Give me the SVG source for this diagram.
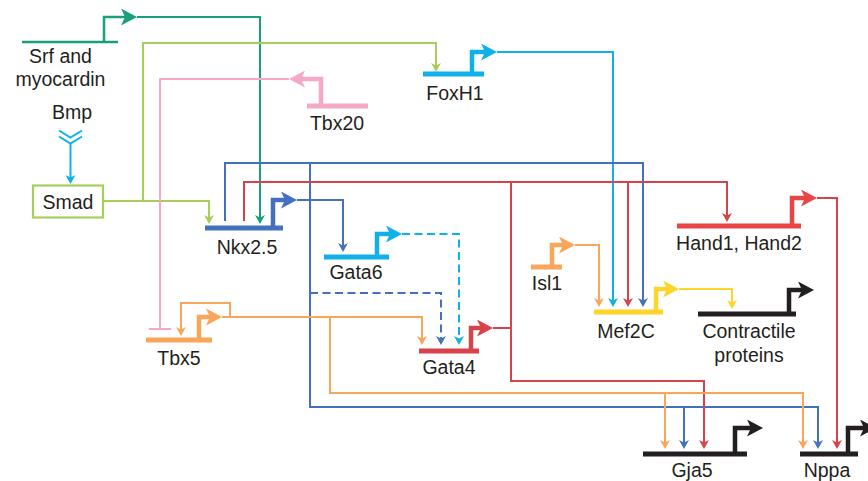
<svg xmlns="http://www.w3.org/2000/svg" width="868" height="481" viewBox="0 0 868 481">
<style>
.c{fill:none;stroke-width:2}
.d{stroke-dasharray:8 4.5}
.g{fill:none;stroke-width:5}
.p{fill:none;stroke-width:4.5}
text{font-family:"Liberation Sans",Arial,Helvetica,sans-serif;font-size:19.5px;fill:#231f20;text-anchor:middle}
.teal{stroke:#17a07e}.green{stroke:#a5cf5b}.pink{stroke:#f5a8c8}.cyan{stroke:#10b1e8}.blue{stroke:#4371c0}.red{stroke:#d6434b}.hand{stroke:#e94446}.orange{stroke:#f9a65a}.yellow{stroke:#fdd42a}.black{stroke:#231f20}
</style>
<defs>
<marker id="s-teal" viewBox="0 0 9 10" markerWidth="9" markerHeight="10" refX="6" refY="5" orient="auto" markerUnits="userSpaceOnUse"><path d="M0,0L9,5L0,10L2.5,5Z" fill="#17a07e"/></marker>
<marker id="s-green" viewBox="0 0 9 10" markerWidth="9" markerHeight="10" refX="6" refY="5" orient="auto" markerUnits="userSpaceOnUse"><path d="M0,0L9,5L0,10L2.5,5Z" fill="#a5cf5b"/></marker>
<marker id="s-cyan" viewBox="0 0 9 10" markerWidth="9" markerHeight="10" refX="6" refY="5" orient="auto" markerUnits="userSpaceOnUse"><path d="M0,0L9,5L0,10L2.5,5Z" fill="#10b1e8"/></marker>
<marker id="s-blue" viewBox="0 0 9 10" markerWidth="9" markerHeight="10" refX="6" refY="5" orient="auto" markerUnits="userSpaceOnUse"><path d="M0,0L9,5L0,10L2.5,5Z" fill="#4371c0"/></marker>
<marker id="s-red" viewBox="0 0 9 10" markerWidth="9" markerHeight="10" refX="6" refY="5" orient="auto" markerUnits="userSpaceOnUse"><path d="M0,0L9,5L0,10L2.5,5Z" fill="#d6434b"/></marker>
<marker id="s-orange" viewBox="0 0 9 10" markerWidth="9" markerHeight="10" refX="6" refY="5" orient="auto" markerUnits="userSpaceOnUse"><path d="M0,0L9,5L0,10L2.5,5Z" fill="#f9a65a"/></marker>
<marker id="s-yellow" viewBox="0 0 9 10" markerWidth="9" markerHeight="10" refX="6" refY="5" orient="auto" markerUnits="userSpaceOnUse"><path d="M0,0L9,5L0,10L2.5,5Z" fill="#fdd42a"/></marker>
<marker id="b-teal" viewBox="0 0 16 17" markerWidth="16" markerHeight="17" refX="5" refY="8.5" orient="auto" markerUnits="userSpaceOnUse"><path d="M0,0L16,8.5L0,17L4,8.5Z" fill="#17a07e"/></marker>
<marker id="b-pink" viewBox="0 0 16 17" markerWidth="16" markerHeight="17" refX="5" refY="8.5" orient="auto" markerUnits="userSpaceOnUse"><path d="M0,0L16,8.5L0,17L4,8.5Z" fill="#f5a8c8"/></marker>
<marker id="b-cyan" viewBox="0 0 16 17" markerWidth="16" markerHeight="17" refX="5" refY="8.5" orient="auto" markerUnits="userSpaceOnUse"><path d="M0,0L16,8.5L0,17L4,8.5Z" fill="#10b1e8"/></marker>
<marker id="b-blue" viewBox="0 0 16 17" markerWidth="16" markerHeight="17" refX="5" refY="8.5" orient="auto" markerUnits="userSpaceOnUse"><path d="M0,0L16,8.5L0,17L4,8.5Z" fill="#4371c0"/></marker>
<marker id="b-red" viewBox="0 0 16 17" markerWidth="16" markerHeight="17" refX="5" refY="8.5" orient="auto" markerUnits="userSpaceOnUse"><path d="M0,0L16,8.5L0,17L4,8.5Z" fill="#d6434b"/></marker>
<marker id="b-hand" viewBox="0 0 16 17" markerWidth="16" markerHeight="17" refX="5" refY="8.5" orient="auto" markerUnits="userSpaceOnUse"><path d="M0,0L16,8.5L0,17L4,8.5Z" fill="#e94446"/></marker>
<marker id="b-orange" viewBox="0 0 16 17" markerWidth="16" markerHeight="17" refX="5" refY="8.5" orient="auto" markerUnits="userSpaceOnUse"><path d="M0,0L16,8.5L0,17L4,8.5Z" fill="#f9a65a"/></marker>
<marker id="b-yellow" viewBox="0 0 16 17" markerWidth="16" markerHeight="17" refX="5" refY="8.5" orient="auto" markerUnits="userSpaceOnUse"><path d="M0,0L16,8.5L0,17L4,8.5Z" fill="#fdd42a"/></marker>
<marker id="b-black" viewBox="0 0 16 17" markerWidth="16" markerHeight="17" refX="5" refY="8.5" orient="auto" markerUnits="userSpaceOnUse"><path d="M0,0L16,8.5L0,17L4,8.5Z" fill="#231f20"/></marker>
</defs>
<rect width="868" height="481" fill="#ffffff"/>

<g id="connectors">
<path class="c teal" d="M137,17H260V221" marker-end="url(#s-teal)"/>
<path class="c green" d="M103,201H209V221" marker-end="url(#s-green)"/>
<path class="c green" d="M143,201V43H436V69" marker-end="url(#s-green)"/>
<path class="c cyan" d="M70.5,143V181" marker-end="url(#s-cyan)"/>
<path class="c pink" d="M289,79H160V329"/>
<path class="c pink" d="M149,329H171"/>
<path class="c cyan" d="M497,52H613V304" marker-end="url(#s-cyan)"/>
<path class="c blue" d="M297,200H343V249" marker-end="url(#s-blue)"/>
<path class="c blue" d="M225,221V163H643V304" marker-end="url(#s-blue)"/>
<path class="c blue" d="M310,163V407H818V446" marker-end="url(#s-blue)"/>
<path class="c blue" d="M684,407V446" marker-end="url(#s-blue)"/>
<path class="c d blue" d="M310,293H441V342" marker-end="url(#s-blue)"/>
<path class="c red" d="M244,221V182H727V219" marker-end="url(#s-red)"/>
<path class="c red" d="M628,182V304" marker-end="url(#s-red)"/>
<path class="c red" d="M511,182V381H704V446" marker-end="url(#s-red)"/>
<path class="c red" d="M493,328H511"/>
<path class="c red" d="M817,198H837V446" marker-end="url(#s-red)"/>
<path class="c d cyan" d="M402,234H459V342" marker-end="url(#s-cyan)"/>
<path class="c orange" d="M222,317H422V342" marker-end="url(#s-orange)"/>
<path class="c orange" d="M222,317H230V303H181V333" marker-end="url(#s-orange)"/>
<path class="c orange" d="M330,317V393H803V446" marker-end="url(#s-orange)"/>
<path class="c orange" d="M665,393V446" marker-end="url(#s-orange)"/>
<path class="c orange" d="M575,245H599V304" marker-end="url(#s-orange)"/>
<path class="c yellow" d="M679,289H732V306" marker-end="url(#s-yellow)"/>
</g>

<g id="srf">
<path class="teal" fill="none" stroke-width="2.5" d="M22,42H118"/>
<path class="teal" fill="none" stroke-width="2.5" d="M104,42V17H126" marker-end="url(#b-teal)"/>
<text x="60.5" y="63">Srf and</text>
<text x="60.5" y="86">myocardin</text>
</g>

<g id="bmp">
<path class="c cyan" d="M59,130.5L70.5,137.5L82,130.5M59,136.5L70.5,143.5L82,136.5"/>
<text x="72" y="119">Bmp</text>
</g>

<g id="smad">
<rect x="33" y="185.5" width="70" height="32" fill="#ffffff" class="green" stroke-width="2.2"/>
<text x="68" y="208.5">Smad</text>
</g>

<g id="tbx20">
<path class="g pink" stroke-width="4" d="M307,106H368"/>
<path class="p pink" stroke-width="4" d="M321,106V79H300" marker-end="url(#b-pink)"/>
<text x="337" y="130">Tbx20</text>
</g>

<g id="foxh1">
<path class="g cyan" d="M423,74H484"/>
<path class="p cyan" d="M472,74V52H486" marker-end="url(#b-cyan)"/>
<text x="455" y="100">FoxH1</text>
</g>

<g id="nkx25">
<path class="g blue" d="M205,228H283"/>
<path class="p blue" d="M273,228V200H286" marker-end="url(#b-blue)"/>
<text x="247" y="254">Nkx2.5</text>
</g>

<g id="gata6">
<path class="g cyan" d="M324,257H389"/>
<path class="p cyan" d="M377,257V234H391" marker-end="url(#b-cyan)"/>
<text x="356" y="279">Gata6</text>
</g>

<g id="gata4">
<path class="g red" d="M419,351H479"/>
<path class="p red" d="M471,351V328H482" marker-end="url(#b-red)"/>
<text x="449" y="374">Gata4</text>
</g>

<g id="isl1">
<path class="g orange" d="M531,267H562"/>
<path class="p orange" d="M552,267V245H564" marker-end="url(#b-orange)"/>
<text x="547" y="290">Isl1</text>
</g>

<g id="mef2c">
<path class="g yellow" d="M594,312H663"/>
<path class="p yellow" d="M656,312V289H668" marker-end="url(#b-yellow)"/>
<text x="626" y="338">Mef2C</text>
</g>

<g id="hand">
<path class="g hand" d="M677,226H801"/>
<path class="p hand" d="M792,226V198H806" marker-end="url(#b-hand)"/>
<text x="739" y="250">Hand1, Hand2</text>
</g>

<g id="contractile">
<path class="g black" d="M698,314H796"/>
<path class="p black" d="M789,314V290H803" marker-end="url(#b-black)"/>
<text x="749" y="338">Contractile</text>
<text x="749" y="362">proteins</text>
</g>

<g id="tbx5">
<path class="g orange" d="M146,340H212"/>
<path class="p orange" d="M199,340V317H211" marker-end="url(#b-orange)"/>
<text x="179" y="365">Tbx5</text>
</g>

<g id="gja5">
<path class="g black" d="M643,454H747"/>
<path class="p black" d="M735,454V428H752" marker-end="url(#b-black)"/>
<text x="692" y="477">Gja5</text>
</g>

<g id="nppa">
<path class="g black" d="M800,454H858"/>
<path class="p black" d="M848,454V428H865" marker-end="url(#b-black)"/>
<text x="827" y="477">Nppa</text>
</g>
</svg>
